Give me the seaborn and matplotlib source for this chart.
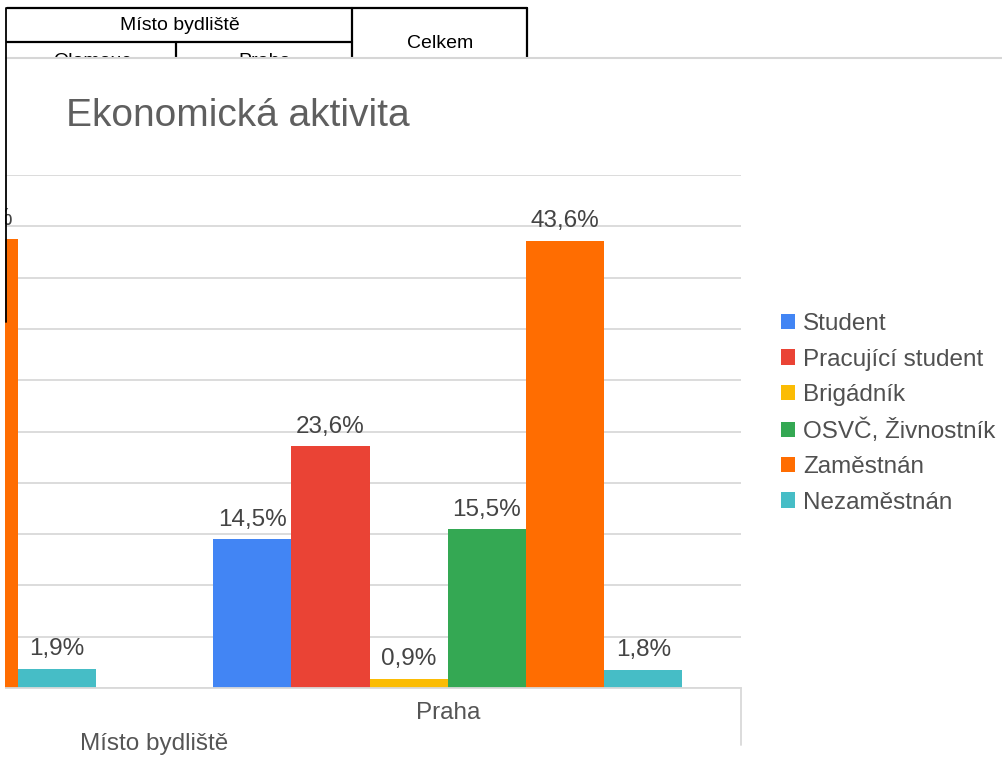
import numpy as np
import pandas as pd
import matplotlib
matplotlib.use('Agg')
import matplotlib.pyplot as plt
from matplotlib.patches import Rectangle
from matplotlib.lines import Line2D
import seaborn as sns

# data
mista = ['Olomouc', 'Praha']
aktivity = ['Student', 'Pracující student', 'Brigádník', 'OSVČ, Živnostník', 'Zaměstnán', 'Nezaměstnán']
olomouc = [14.2, 23.1, 1.5, 15.5, 43.8, 1.9]
praha = [14.5, 23.6, 0.9, 15.5, 43.6, 1.8]
barvy = ['#4285F4', '#EA4335', '#FBBC04', '#34A853', '#FF6D01', '#46BDC6']

df = pd.DataFrame({
    'misto': np.repeat(mista, len(aktivity)),
    'aktivita': aktivity * len(mista),
    'hodnota': olomouc + praha,
})

sns.set_theme(style='white')
plt.rcParams['font.family'] = ['Liberation Sans', 'DejaVu Sans']

W, H = 1003, 758
fig = plt.figure(figsize=(W / 100, H / 100), dpi=100)
fig.patch.set_facecolor('white')

def fx(x):
    return x / W

def fy(y):
    return 1 - y / H

# table behind the chart
def tline(x0, y0, x1, y1, z=3, c='black', lw=1.6):
    fig.add_artist(Line2D([fx(x0), fx(x1)], [fy(y0), fy(y1)], color=c, lw=lw, zorder=z))

tline(7, 8, 527, 8)
tline(7, 42, 352, 42)
tline(352, 8, 352, 70)
tline(176, 42, 176, 70)
tline(527, 8, 527, 70)
fig.text(fx(180), fy(25), 'Místo bydliště', ha='center', va='center', fontsize=14, color='black', zorder=3)
fig.text(fx(440), fy(43), 'Celkem', ha='center', va='center', fontsize=14, color='black', zorder=3)
fig.text(fx(92), fy(62), 'Olomouc', ha='center', va='center', fontsize=14, color='black', zorder=3)
fig.text(fx(265), fy(62), 'Praha', ha='center', va='center', fontsize=14, color='black', zorder=3)

# chart background covering the table
fig.add_artist(Rectangle((fx(6), 0), 1 - fx(6), fy(58), transform=fig.transFigure,
                         facecolor='white', edgecolor='none', zorder=4))
tline(6, 58, 1003, 58, z=4.5, c='#d6d6d6', lw=1.5)
# strip left of the chart frame
fig.add_artist(Rectangle((0, 0), fx(5), 1, transform=fig.transFigure,
                         facecolor='white', edgecolor='none', zorder=5.8))
tline(6, 8, 6, 322, z=6, lw=1.3)

fig.text(fx(66), fy(116), 'Ekonomická aktivita', ha='left', va='center', fontsize=28,
         color='#5f5f5f', zorder=6)

# axes: plot area partly outside the figure on the left
ax = fig.add_axes([fx(-432), fy(688), fx(741 + 432), (688 - 175) / H])
ax.set_zorder(5)
sns.barplot(data=df, x='misto', y='hodnota', hue='aktivita', order=mista, hue_order=aktivity,
            palette=barvy, saturation=1, width=0.8, linewidth=0, ax=ax, legend=False)

ax.set_xlim(-0.5, 1.5)
ax.set_ylim(0, 50)
ax.set_yticks(np.arange(0, 51, 5))
ax.yaxis.grid(True, color='#d9d9d9', linewidth=1.3)
ax.set_axisbelow(True)
ax.tick_params(left=False, labelleft=False, bottom=False)
for s in ['top', 'right', 'left']:
    ax.spines[s].set_visible(False)
ax.spines['bottom'].set_color('#d9d9d9')
ax.spines['bottom'].set_linewidth(1.3)
ax.plot([1, 1], [0, -0.111], transform=ax.transAxes, color='#d9d9d9', lw=1.3, clip_on=False)

labels = []
for cont in ax.containers:
    labels += ax.bar_label(cont, labels=[f'{v:.1f}%'.replace('.', ',') for v in cont.datavalues],
                           padding=6, fontsize=17.5, color='#444444')

ax.set_xticks(range(len(mista)))
ax.set_xticklabels(mista, fontsize=17.5, color='#555555')
ax.tick_params(axis='x', pad=4)
ax.set_xlabel('Místo bydliště', fontsize=17.5, color='#555555', labelpad=6.5)
ax.set_ylabel('')

handles = [Rectangle((0, 0), 1, 1, facecolor=c, edgecolor='none') for c in barvy]
leg = fig.legend(handles, aktivity, loc='center left', bbox_to_anchor=(fx(759), fy(413.5)),
                 frameon=False, fontsize=17.5, handlelength=0.58, handleheight=0.58,
                 handletextpad=0.33, labelspacing=0.54)
leg.set_zorder(6)
for t in leg.get_texts():
    t.set_color('#505050')

# drop value labels that lie wholly left of the picture (not visible in the screenshot)
fig.canvas.draw()
rend = fig.canvas.get_renderer()
for t in labels:
    if t.get_window_extent(rend).x1 < 0:
        t.set_visible(False)

fig.savefig('out.png', dpi=100)
